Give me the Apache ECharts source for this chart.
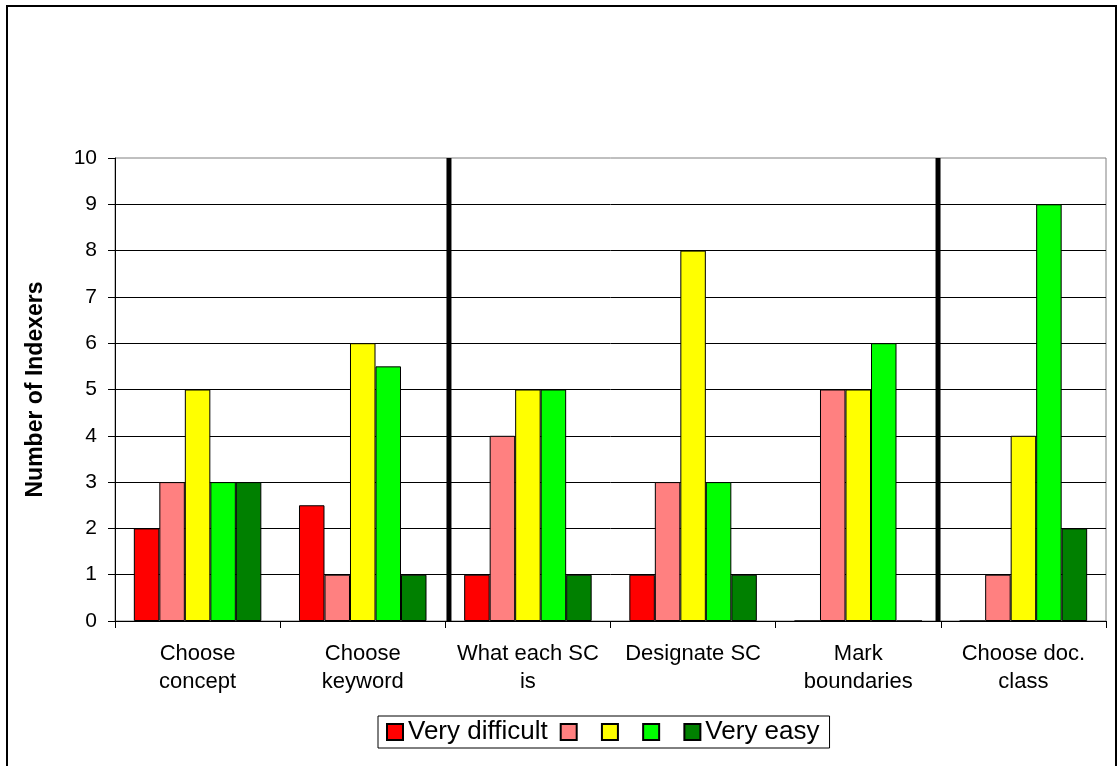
<!DOCTYPE html>
<html>
<head>
<meta charset="utf-8">
<script src="https://cdn.jsdelivr.net/npm/echarts@6/dist/echarts.min.js"></script>
<style>
  html, body { margin: 0; padding: 0; background: #fff; }
  #chart { width: 1118px; height: 766px; }
</style>
</head>
<body>
<div id="chart"></div>
<script>
// Task categories along the x axis
const categories = [
  'Choose\nconcept', 'Choose\nkeyword', 'What each SC\nis',
  'Designate SC', 'Mark\nboundaries', 'Choose doc.\nclass'
];
// Number of indexers per difficulty rating, from very difficult to very easy
const veryDifficult = [2, 2.5, 1, 1, 0, 0];
const difficult     = [3, 1, 4, 3, 5, 1];
const neutral       = [5, 6, 5, 8, 5, 4];
const easy          = [3, 5.5, 5, 3, 6, 9];
const veryEasy      = [3, 1, 1, 1, 0, 2];
// Legend names (only the two ends carry text)
const seriesNames = ['Very difficult', 's2', 's3', 's4', 'Very easy'];
const seriesColors = ['#FF0000', '#FF8080', '#FFFF00', '#00FF00', '#008000'];
// Heavy divider positions, in category units from the left edge of the plot
const dividers = [2.022, 4.983];
const yTicks = { min: 0, max: 10, interval: 1 };

const FONT = '"Liberation Sans", Arial, sans-serif';
const seriesData = [veryDifficult, difficult, neutral, easy, veryEasy];

const barSeries = seriesData.map((vals, i) => ({
  name: seriesNames[i],
  type: 'bar',
  data: vals,
  barGap: '0%',
  barCategoryGap: '22.8%',
  itemStyle: { color: seriesColors[i], borderColor: '#000', borderWidth: 1 }
}));

const dividerSeries = dividers.map(x => ({
  type: 'line',
  xAxisIndex: 1,
  yAxisIndex: 0,
  data: [[x, yTicks.min], [x, yTicks.max]],
  symbol: 'none',
  silent: true,
  z: 5,
  lineStyle: { color: '#000', width: 5, cap: 'butt' }
}));

const chart = echarts.init(document.getElementById('chart'), null, { renderer: 'canvas' });
chart.setOption({
  animation: false,
  backgroundColor: '#fff',
  textStyle: { fontFamily: FONT, color: '#000' },
  grid: {
    left: 115, right: 12, top: 158, bottom: 145,
    show: true, borderColor: '#808080', borderWidth: 1, backgroundColor: 'transparent'
  },
  graphic: [{
    type: 'rect',
    shape: { x: 7, y: 6, width: 1109, height: 800 },
    style: { fill: 'none', stroke: '#000', lineWidth: 2 },
    silent: true, z: 100
  }],
  legend: {
    data: seriesNames,
    left: 378, top: 716,
    orient: 'horizontal',
    icon: 'rect',
    itemWidth: 16, itemHeight: 16,
    itemGap: 12,
    padding: [3, 10, 3, 8],
    borderColor: '#000', borderWidth: 1,
    textStyle: { fontFamily: FONT, fontSize: 26, color: '#000' },
    formatter: name => (name.charAt(0) === 's' && name.length === 2) ? ' ' : name,
    selectedMode: false
  },
  xAxis: [{
    type: 'category',
    data: categories,
    axisLine: { lineStyle: { color: '#000', width: 1 } },
    axisTick: { show: true, length: 7, lineStyle: { color: '#000' } },
    axisLabel: {
      interval: 0, margin: 19, fontSize: 22, lineHeight: 28,
      color: '#000', fontFamily: FONT, align: 'center'
    },
    splitLine: { show: false }
  }, {
    type: 'value',
    min: 0, max: categories.length,
    show: false
  }],
  yAxis: {
    type: 'value',
    min: yTicks.min, max: yTicks.max, interval: yTicks.interval,
    name: 'Number of Indexers',
    nameLocation: 'middle',
    nameGap: 68,
    nameTextStyle: { fontSize: 23, fontWeight: 'bold', color: '#000', fontFamily: FONT },
    axisLine: { show: true, lineStyle: { color: '#000', width: 1 } },
    axisTick: { show: true, length: 7, lineStyle: { color: '#000' } },
    axisLabel: { margin: 18, fontSize: 21, color: '#000', fontFamily: FONT },
    splitLine: { show: true, showMaxLine: false, lineStyle: { color: '#000', width: 1 } }
  },
  series: barSeries.concat(dividerSeries)
});
</script>
</body>
</html>
